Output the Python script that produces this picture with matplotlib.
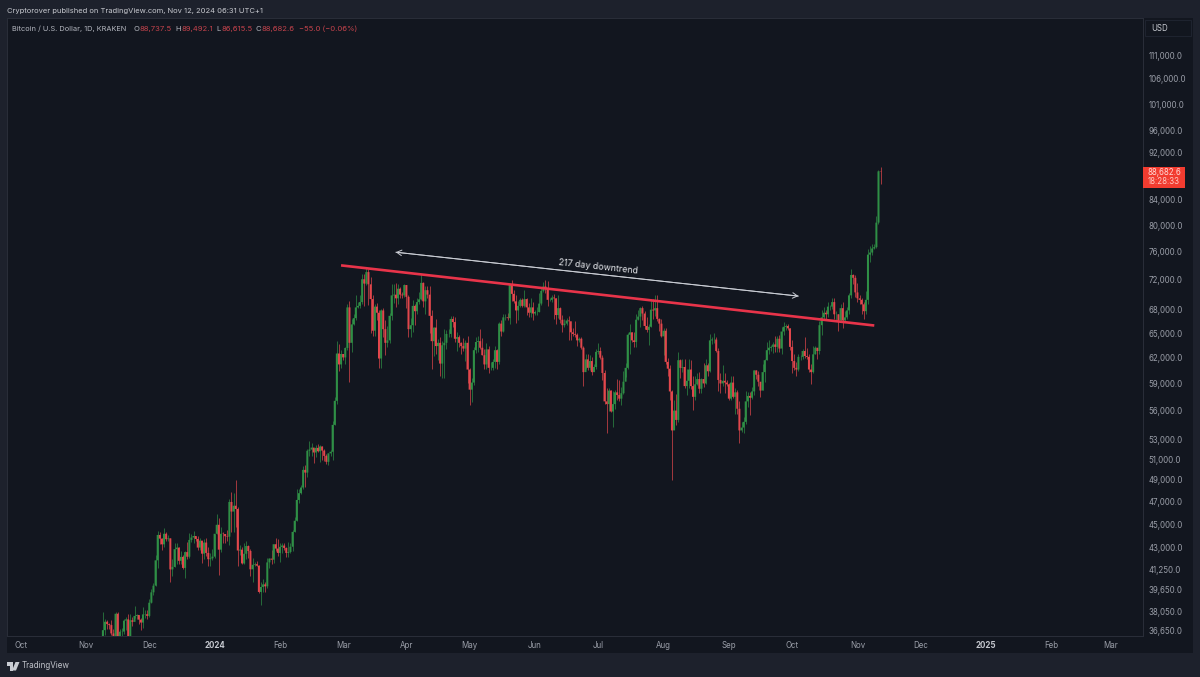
import matplotlib
matplotlib.use("Agg")
import matplotlib.pyplot as plt
import matplotlib.dates as mdates
from matplotlib.patches import Rectangle, Polygon
from matplotlib.ticker import NullLocator
import numpy as np
import pandas as pd

plt.rcParams['font.family'] = ['Inter', 'DejaVu Sans']

W, H = 1200, 677

# daily candles, 2023-11-09 to 2024-11-12, one row per month
start_date = "2023-11-09"
first_open = 35600
closes = [
    36700,37300,37130,37060,36470,35550,37880,36160,36590,36600,37380,37470,35810,37410,37290,37720,37790,37450,37240,37830,37850,37720,
    38690,39470,39980,41980,44080,43770,43290,44180,43720,43790,41250,41450,42890,43020,41940,42260,41370,42650,42270,43660,43860,43990,43740,43020,43600,42520,43440,42580,42070,42140,42280,
    44180,44950,42850,44180,44160,43970,43930,46970,46110,46630,46340,42780,42850,41730,42510,43150,42740,41260,41620,41670,41550,39500,39880,40080,39930,41810,42120,42030,43300,42940,42580,
    43080,43190,42990,42580,42660,43090,44340,45300,47150,47770,48290,49960,49700,51830,51950,52150,51660,52120,51780,52260,51850,51320,50740,51570,51730,54480,57060,62500,61200,
    62440,62030,63170,68300,63800,66100,66900,68300,68500,69000,72100,71500,73100,71400,69400,65300,68400,67600,61900,67900,65500,63800,64100,67200,69900,69990,69500,70800,70000,69900,71300,
    69700,65500,66000,68500,67800,69000,69360,71600,69100,70600,70000,67200,64000,65700,63400,63800,61300,63500,63800,64900,64900,66800,66400,64300,64500,63800,63400,63100,63800,60600,
    58300,59100,62900,63900,64000,63200,62300,61200,63000,60800,60800,61500,62900,61500,66200,65200,67000,67000,66900,71400,70100,69100,67900,68500,69300,68500,69400,68300,67600,68300,67500,
    67700,67700,68800,70500,71100,70800,69300,69300,69600,69500,67300,68200,66700,66000,66200,66600,66500,65100,64900,64800,64100,64300,63200,60300,61800,60800,61600,60300,60900,62700,
    62800,62000,60200,57000,56700,58200,55900,56700,58000,57700,57300,57900,59200,60800,64800,65100,64100,63900,66700,67100,68200,67500,65900,65400,65800,68000,67900,68200,66800,66200,64600,
    65300,61500,60700,58100,53900,56000,55000,61700,60800,60900,58700,59300,60600,58700,57500,58900,59500,58400,59500,59000,61100,60400,64100,64200,64200,62800,59400,59000,59300,59100,58900,
    57300,59100,57500,58000,56200,53900,54200,54800,57000,57600,57400,58100,60500,60000,59200,58200,60300,61700,62900,63200,63300,63600,63300,64300,63100,65200,65800,65900,65600,63300,
    61600,60800,60600,62100,62100,62800,62200,62100,60600,60300,62400,63200,62800,66000,67000,67600,67400,68400,68400,69000,67400,67400,66600,68200,66600,67000,67900,69900,72700,72300,70300,
    69500,69300,68700,67800,69300,75600,75900,76500,76700,80400,88737.5,88682.6,
]
highs = [
    37970,37530,37400,37230,37430,36770,37980,37980,36800,36850,37500,37650,37850,37880,37650,38420,37890,37800,37600,38400,38150,38150,
    38980,39700,40200,42420,44450,44300,43850,44700,44370,44050,43800,42100,43400,43420,43080,42750,42400,42750,43450,44250,44200,44400,44020,43950,43800,43600,43700,43800,43100,42600,42900,
    44200,45900,45500,44800,44350,44200,44500,47200,47900,47750,49000,46500,43200,43100,43400,43550,43200,42900,42150,41850,41900,41600,40300,40500,40300,42200,42200,42800,43300,43850,43750,
    43400,43400,43400,43100,43500,43400,44500,45600,48200,48200,48550,50300,50400,52050,52800,52600,52150,52400,52500,52400,52300,52000,51500,51650,51950,54900,57500,64000,63600,
    62950,62400,63300,68800,69100,66800,67400,70000,69000,70000,72800,72900,73650,73500,72400,70000,68800,68900,68000,68100,68200,66600,65900,67600,71500,71500,71600,71500,71000,70300,71400,
    71300,70000,66900,69300,68700,69500,70300,72800,71700,71200,71200,71200,67900,65800,66800,64300,64500,64000,65500,65400,65500,67200,67200,67000,65200,64800,63900,64400,64200,64700,
    60800,59600,63300,64500,64600,65500,64400,63000,63800,63400,61500,61800,63400,63000,66400,66700,67400,67400,67600,71500,71950,70600,70000,69200,69500,69500,70600,69500,68900,69500,69000,
    67900,68400,70200,71000,71700,71950,71900,69500,69900,70100,69500,69900,68400,67300,66800,66900,67200,65700,65700,66500,65000,64500,64500,63400,62400,62400,62300,62100,61200,63000,
    63800,63300,62300,60500,58500,58500,58300,58200,58300,59500,59400,58600,60400,61400,65000,66100,65100,65100,67400,68000,68300,68500,67800,67000,66100,69400,69400,70000,69900,66900,66800,
    65600,65600,62000,61100,58300,57200,57800,62700,61800,61800,61900,60700,61800,61700,59800,59800,60200,60300,59600,61400,61800,61400,64900,64500,65000,64500,63200,60200,61100,60200,59400,
    59000,59800,59800,58500,58300,57000,54800,55300,58100,58000,58000,58600,60600,60600,60400,59200,61300,61800,63900,64100,63500,63900,64700,64700,64800,65800,66400,66200,66100,65600,
    64100,62400,61500,62400,62300,63000,64500,63200,62500,61300,63400,63400,63100,66500,67900,68400,67900,69000,68600,69500,69500,67800,67500,68800,69000,67800,68300,70200,73600,72900,72700,
    71600,69900,69500,69000,70500,76400,76900,77200,77100,81500,89000,89492.1,
]
lows = [
    35600,36340,36800,36780,36340,35350,35370,35880,35530,36250,36450,36700,35650,35750,37000,37600,37500,37150,36700,36860,37580,37500,
    37620,38650,39280,39970,41400,43300,42850,43050,43600,43550,40300,40700,41450,41700,41700,41700,41280,40550,42100,42200,43450,43400,43600,42850,42800,41800,42120,42300,41500,41550,42000,
    42200,44200,40800,42650,43400,43400,43600,43200,44300,44300,44800,41500,42450,41700,41700,42100,42200,40700,40300,41500,41500,39450,38550,39500,39500,39800,41400,41650,41800,42700,42300,
    41880,42600,42850,42280,42250,42600,42780,44300,45250,46850,47700,48150,48300,49250,51300,51350,50650,51200,51700,50750,50900,50800,50500,50400,51300,50900,54450,56700,60400,
    60800,61700,61300,62900,59200,62700,66000,66600,68200,68200,68800,68500,71300,68600,65000,64600,64700,66600,60800,60800,64500,62300,63300,63800,66700,68900,68400,68800,69600,69600,69650,
    68200,64500,64500,65100,66000,67500,68700,69300,68300,67400,69500,65000,60700,62200,62400,61700,59800,59600,59600,63100,64500,64500,65800,63900,62800,63300,62400,62800,61600,59100,
    56600,56900,58800,62600,62700,63000,62300,60700,60700,60200,60500,60600,60800,60700,61300,64600,65100,66600,66600,66100,69200,68900,66300,66700,68300,68300,68300,67300,67100,67100,66700,
    67300,67300,67700,68600,70400,70200,68500,69200,69000,66800,66100,66900,66300,65100,65800,66000,64100,64200,64700,64500,63400,63900,63000,58700,60700,60500,60600,60000,60500,60700,
    62500,61800,59400,56700,53600,55900,55800,54300,56200,57200,57000,56600,57800,59700,60700,62400,63900,63300,63300,66700,65800,66600,65500,65100,63500,65800,66800,67200,66500,65300,64500,
    62300,61200,59900,57200,49000,54000,54500,54800,59600,60300,58500,57700,58500,58400,56100,57100,58800,57900,57900,58600,58900,59800,60300,63600,63800,62700,58100,57900,58700,57900,58700,
    57200,57100,57400,55600,55600,52600,53700,53600,54600,56400,55500,57300,57700,59500,58700,57500,58300,59200,61700,62500,62800,62600,62700,62700,62700,62500,64800,65400,65400,62900,
    60200,60500,59900,60400,61700,61900,62000,61900,60300,58900,60200,62500,61800,62400,64800,66800,66700,67100,68000,68100,66800,66500,65300,66500,65700,66500,66800,67500,69500,71400,69700,
    69000,68800,67500,66800,67500,68800,74500,75600,76400,76500,80200,86615.5,
]

price_ticks = [111000, 106000, 101000, 96000, 92000, 84000, 80000, 76000, 72000, 68000, 65000, 62000,
               59000, 56000, 53000, 51000, 49000, 47000, 45000, 43000, 41250, 39650, 38050, 36650]
month_ticks = ["2023-10-01", "2023-11-01", "2023-12-01", "2024-01-01", "2024-02-01", "2024-03-02", "2024-04-01",
               "2024-05-01", "2024-06-01", "2024-07-01", "2024-08-01", "2024-09-01", "2024-10-01", "2024-11-01",
               "2024-12-01", "2025-01-01", "2025-02-01", "2025-03-01"]
month_labels = ["Oct", "Nov", "Dec", "2024", "Feb", "Mar", "Apr", "May", "Jun", "Jul", "Aug", "Sep", "Oct", "Nov",
                "Dec", "2025", "Feb", "Mar"]

trend_dates = ["2024-03-01", "2024-11-09"]
trend_prices = [74050, 65960]
arrow_dates = ["2024-03-27", "2024-10-04"]
arrow_prices = [75950, 69800]

BAND = "#1d212c"
PANEL = "#12161f"
EDGE = "#2a2e39"
GREEN = "#2f8f46"
RED = "#e2474c"
TICK = "#9a9ea8"


def fx(x):
    return x / W


def fy(y):
    return 1 - y / H


def panel(x0, y0, x1, y1, color, edge="none", lw=0):
    fig.add_artist(Rectangle((fx(x0), fy(y1)), (x1 - x0) / W, (y1 - y0) / H, transform=fig.transFigure,
                             facecolor=color, edgecolor=edge, linewidth=lw, zorder=0))


def label(x, y, s, color, size=5.7, **kw):
    fig.text(fx(x), fy(y), s, color=color, fontsize=size, va="center", zorder=10, **kw)


fig = plt.figure(figsize=(W / 100, H / 100), dpi=100, facecolor=BAND)
panel(1143, 18, 1193, 653, PANEL)
panel(7, 637, 1143, 653, PANEL)

ax = fig.add_axes([fx(7), fy(636), (1143 - 7) / W, (636 - 18) / H], facecolor=PANEL)
ax.set_yscale("log")

dates = mdates.date2num(pd.date_range(start_date, periods=len(closes)))
closes = np.array(closes)
opens = np.concatenate([[first_open], closes[:-1]])
highs = np.array(highs)
lows = np.array(lows)
up = closes >= opens
colors = [GREEN if u else RED for u in up]

ax.vlines(dates, lows, highs, colors=colors, linewidth=0.7, alpha=0.7, zorder=2)
bars = ax.bar(dates, np.abs(closes - opens), bottom=np.minimum(opens, closes), width=0.95, color=colors, linewidth=0, zorder=3)
for b in bars:
    b.set_snap(False)

ax.plot(mdates.datestr2num(trend_dates), trend_prices, color="#e8344a", linewidth=1.9, solid_capstyle="butt", zorder=5)
arrow_x = mdates.datestr2num(arrow_dates)
ax.annotate("", xy=(arrow_x[0], arrow_prices[0]), xytext=(arrow_x[1], arrow_prices[1]),
            arrowprops=dict(arrowstyle="<-,head_length=0.35,head_width=0.2", color="#c9ccd3", linewidth=0.7,
                            shrinkA=0, shrinkB=0), zorder=5)
ax.annotate("", xy=(arrow_x[1], arrow_prices[1]), xytext=(arrow_x[0], arrow_prices[0]),
            arrowprops=dict(arrowstyle="<-,head_length=0.35,head_width=0.2", color="#c9ccd3", linewidth=0.7,
                            shrinkA=0, shrinkB=0), zorder=5)
ax.text(mdates.datestr2num("2024-07-01"), 73800, "217 day downtrend", color="#e4e6ea", fontsize=6.4,
        rotation=-6.2, rotation_mode="anchor", ha="center", va="center", zorder=6)

ax.set_xlim(mdates.datestr2num("2023-09-24") + 0.5, mdates.datestr2num("2025-03-16") + 0.5)
ax.set_ylim(36290, 119200)

ax.yaxis.tick_right()
ax.set_yticks(price_ticks)
ax.set_yticklabels([f"{p:,.1f}" for p in price_ticks])
ax.yaxis.set_minor_locator(NullLocator())
ax.tick_params(axis="y", length=0, pad=4.2, labelsize=5.7, labelcolor=TICK)

ax.set_xticks(mdates.datestr2num(month_ticks))
ax.set_xticklabels(month_labels)
ax.tick_params(axis="x", length=0, pad=3.8, labelsize=5.7, labelcolor=TICK)
for t in ax.get_xticklabels():
    if t.get_text() in ("2024", "2025"):
        t.set_fontweight("bold")
        t.set_color("#c4c7ce")

for s in ax.spines.values():
    s.set_color(EDGE)
    s.set_linewidth(0.7)

# header
label(7, 10.5, "Cryptorover published on TradingView.com, Nov 12, 2024 06:31 UTC+1", "#c8cad0", size=5.45)
label(12, 29, "Bitcoin / U.S. Dollar, 1D, KRAKEN", "#b4b7bf", size=5.3)
dim_red = "#c4434c"
for x, s, c in [(134, "O", "#b4b7bf"), (140, "88,737.5", dim_red), (175, "H", "#b4b7bf"), (181, "89,492.1", dim_red),
                (216, "L", "#b4b7bf"), (221, "86,615.5", dim_red), (256, "C", "#b4b7bf"), (262, "88,682.6", dim_red),
                (299, "\u221255.0 (\u22120.06%)", dim_red)]:
    label(x, 29, s, c, size=5.5)

# price scale
panel(1145, 20, 1191, 36, PANEL, edge="#1f2430", lw=0.7)
label(1151, 28.5, "USD", "#c4c7ce", size=5.7)
fig.add_artist(Rectangle((fx(1143), fy(188)), 42 / W, 21 / H, transform=fig.transFigure, facecolor="#f23c30",
                         edgecolor="none", zorder=9))
label(1148, 172.5, "88,682.6", "#ffd8d4", size=5.7)
label(1148, 181.5, "18:28:33", "#ffc8c2", size=5.7)

# TradingView logo
logo = "#c9ccd3"
fig.add_artist(Polygon([(fx(6.5), fy(662)), (fx(13), fy(662)), (fx(13), fy(670.5)), (fx(10), fy(670.5)), (fx(10), fy(665.5)),
                        (fx(6.5), fy(665.5))], closed=True, transform=fig.transFigure, facecolor=logo, edgecolor="none", zorder=9))
fig.add_artist(Polygon([(fx(15.5), fy(662)), (fx(19.5), fy(662)), (fx(16), fy(670.5)), (fx(12), fy(670.5))], closed=True,
                       transform=fig.transFigure, facecolor=logo, edgecolor="none", zorder=9))
label(22, 666, "TradingView", "#c0c3ca", size=5.8)

fig.savefig("out.png", dpi=100, facecolor=fig.get_facecolor())
